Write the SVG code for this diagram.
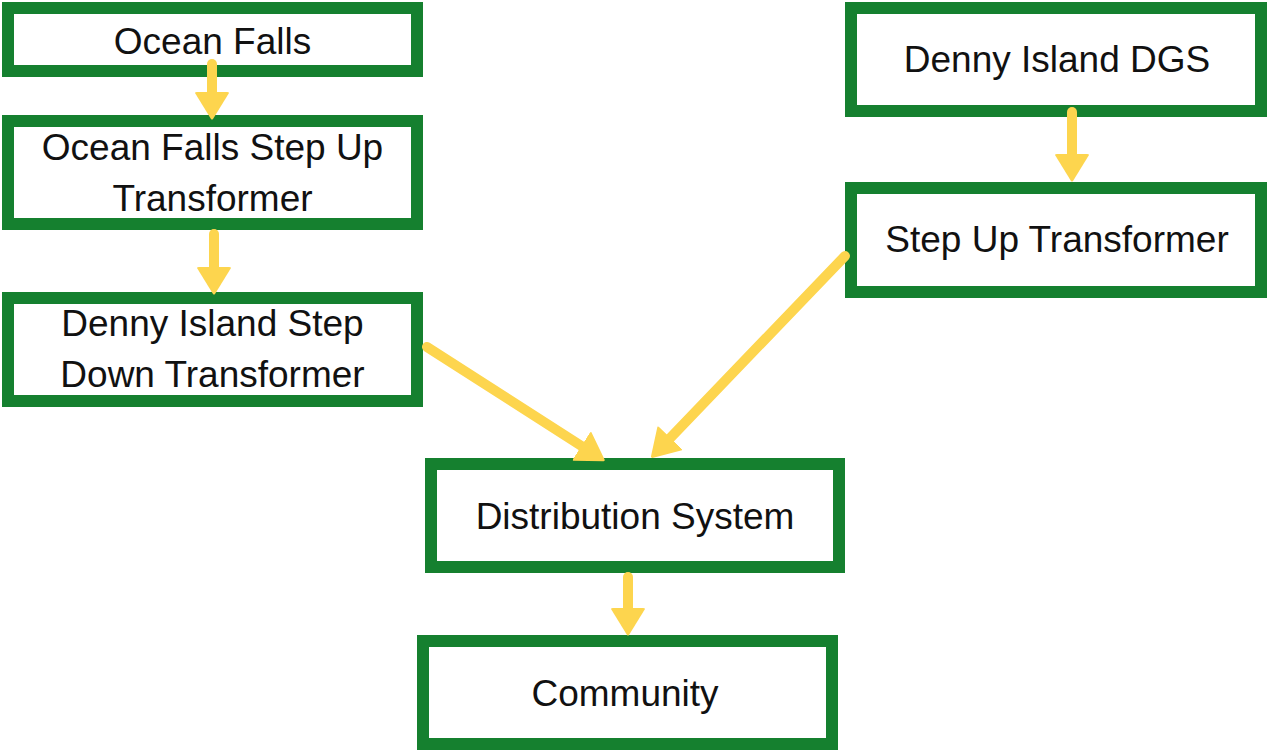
<svg xmlns="http://www.w3.org/2000/svg" width="1269" height="750" viewBox="0 0 1269 750">
<style>
.box{fill:#fff;stroke:#15802f;stroke-width:12}
.t{font-family:"Liberation Sans",Arial,sans-serif;font-size:37px;fill:#111;text-anchor:middle}
.c{stroke:#fdd54e;stroke-width:10;fill:none;stroke-linecap:round;marker-end:url(#ah)}
</style>
<defs>
<marker id="ah" markerUnits="userSpaceOnUse" viewBox="0 0 28 38" markerWidth="28" markerHeight="38" refX="4" refY="19" orient="auto">
<path d="M1,2 L27,18 Q28,19 27,20 L1,36 Q0,36 0,34 L0,4 Q0,2 1,2 Z" fill="#fdd54e"/>
</marker>
</defs>
<rect width="1269" height="750" fill="#fff"/>
<g id="n1"><rect class="box" x="8" y="8" width="409" height="63"/><text class="t" x="212.5" y="54">Ocean Falls</text></g>
<g id="n2"><rect class="box" x="8" y="121" width="409" height="103"/><text class="t" x="212.5" y="160">Ocean Falls Step Up</text><text class="t" x="212.5" y="211">Transformer</text></g>
<g id="n3"><rect class="box" x="8" y="298" width="409" height="103"/><text class="t" x="212.5" y="336">Denny Island Step</text><text class="t" x="212.5" y="387">Down Transformer</text></g>
<g id="n4"><rect class="box" x="851" y="8" width="410" height="103"/><text class="t" x="1057" y="72">Denny Island DGS</text></g>
<g id="n5"><rect class="box" x="851" y="188" width="410" height="104"/><text class="t" x="1057" y="252">Step Up Transformer</text></g>
<g id="n6"><rect class="box" x="431" y="464" width="408" height="103"/><text class="t" x="635" y="529">Distribution System</text></g>
<g id="n7"><rect class="box" x="423" y="641" width="409" height="103"/><text class="t" x="625" y="706">Community</text></g>
<g id="connectors">
<path class="c" d="M212,64 L212,96"/>
<path class="c" d="M214,234 L214,271"/>
<path class="c" d="M427,347 L584.8,448.1"/>
<path class="c" d="M845,256 L667.6,440.7"/>
<path class="c" d="M1072,112 L1072,158"/>
<path class="c" d="M628,577 L628,612"/>
</g>
</svg>
